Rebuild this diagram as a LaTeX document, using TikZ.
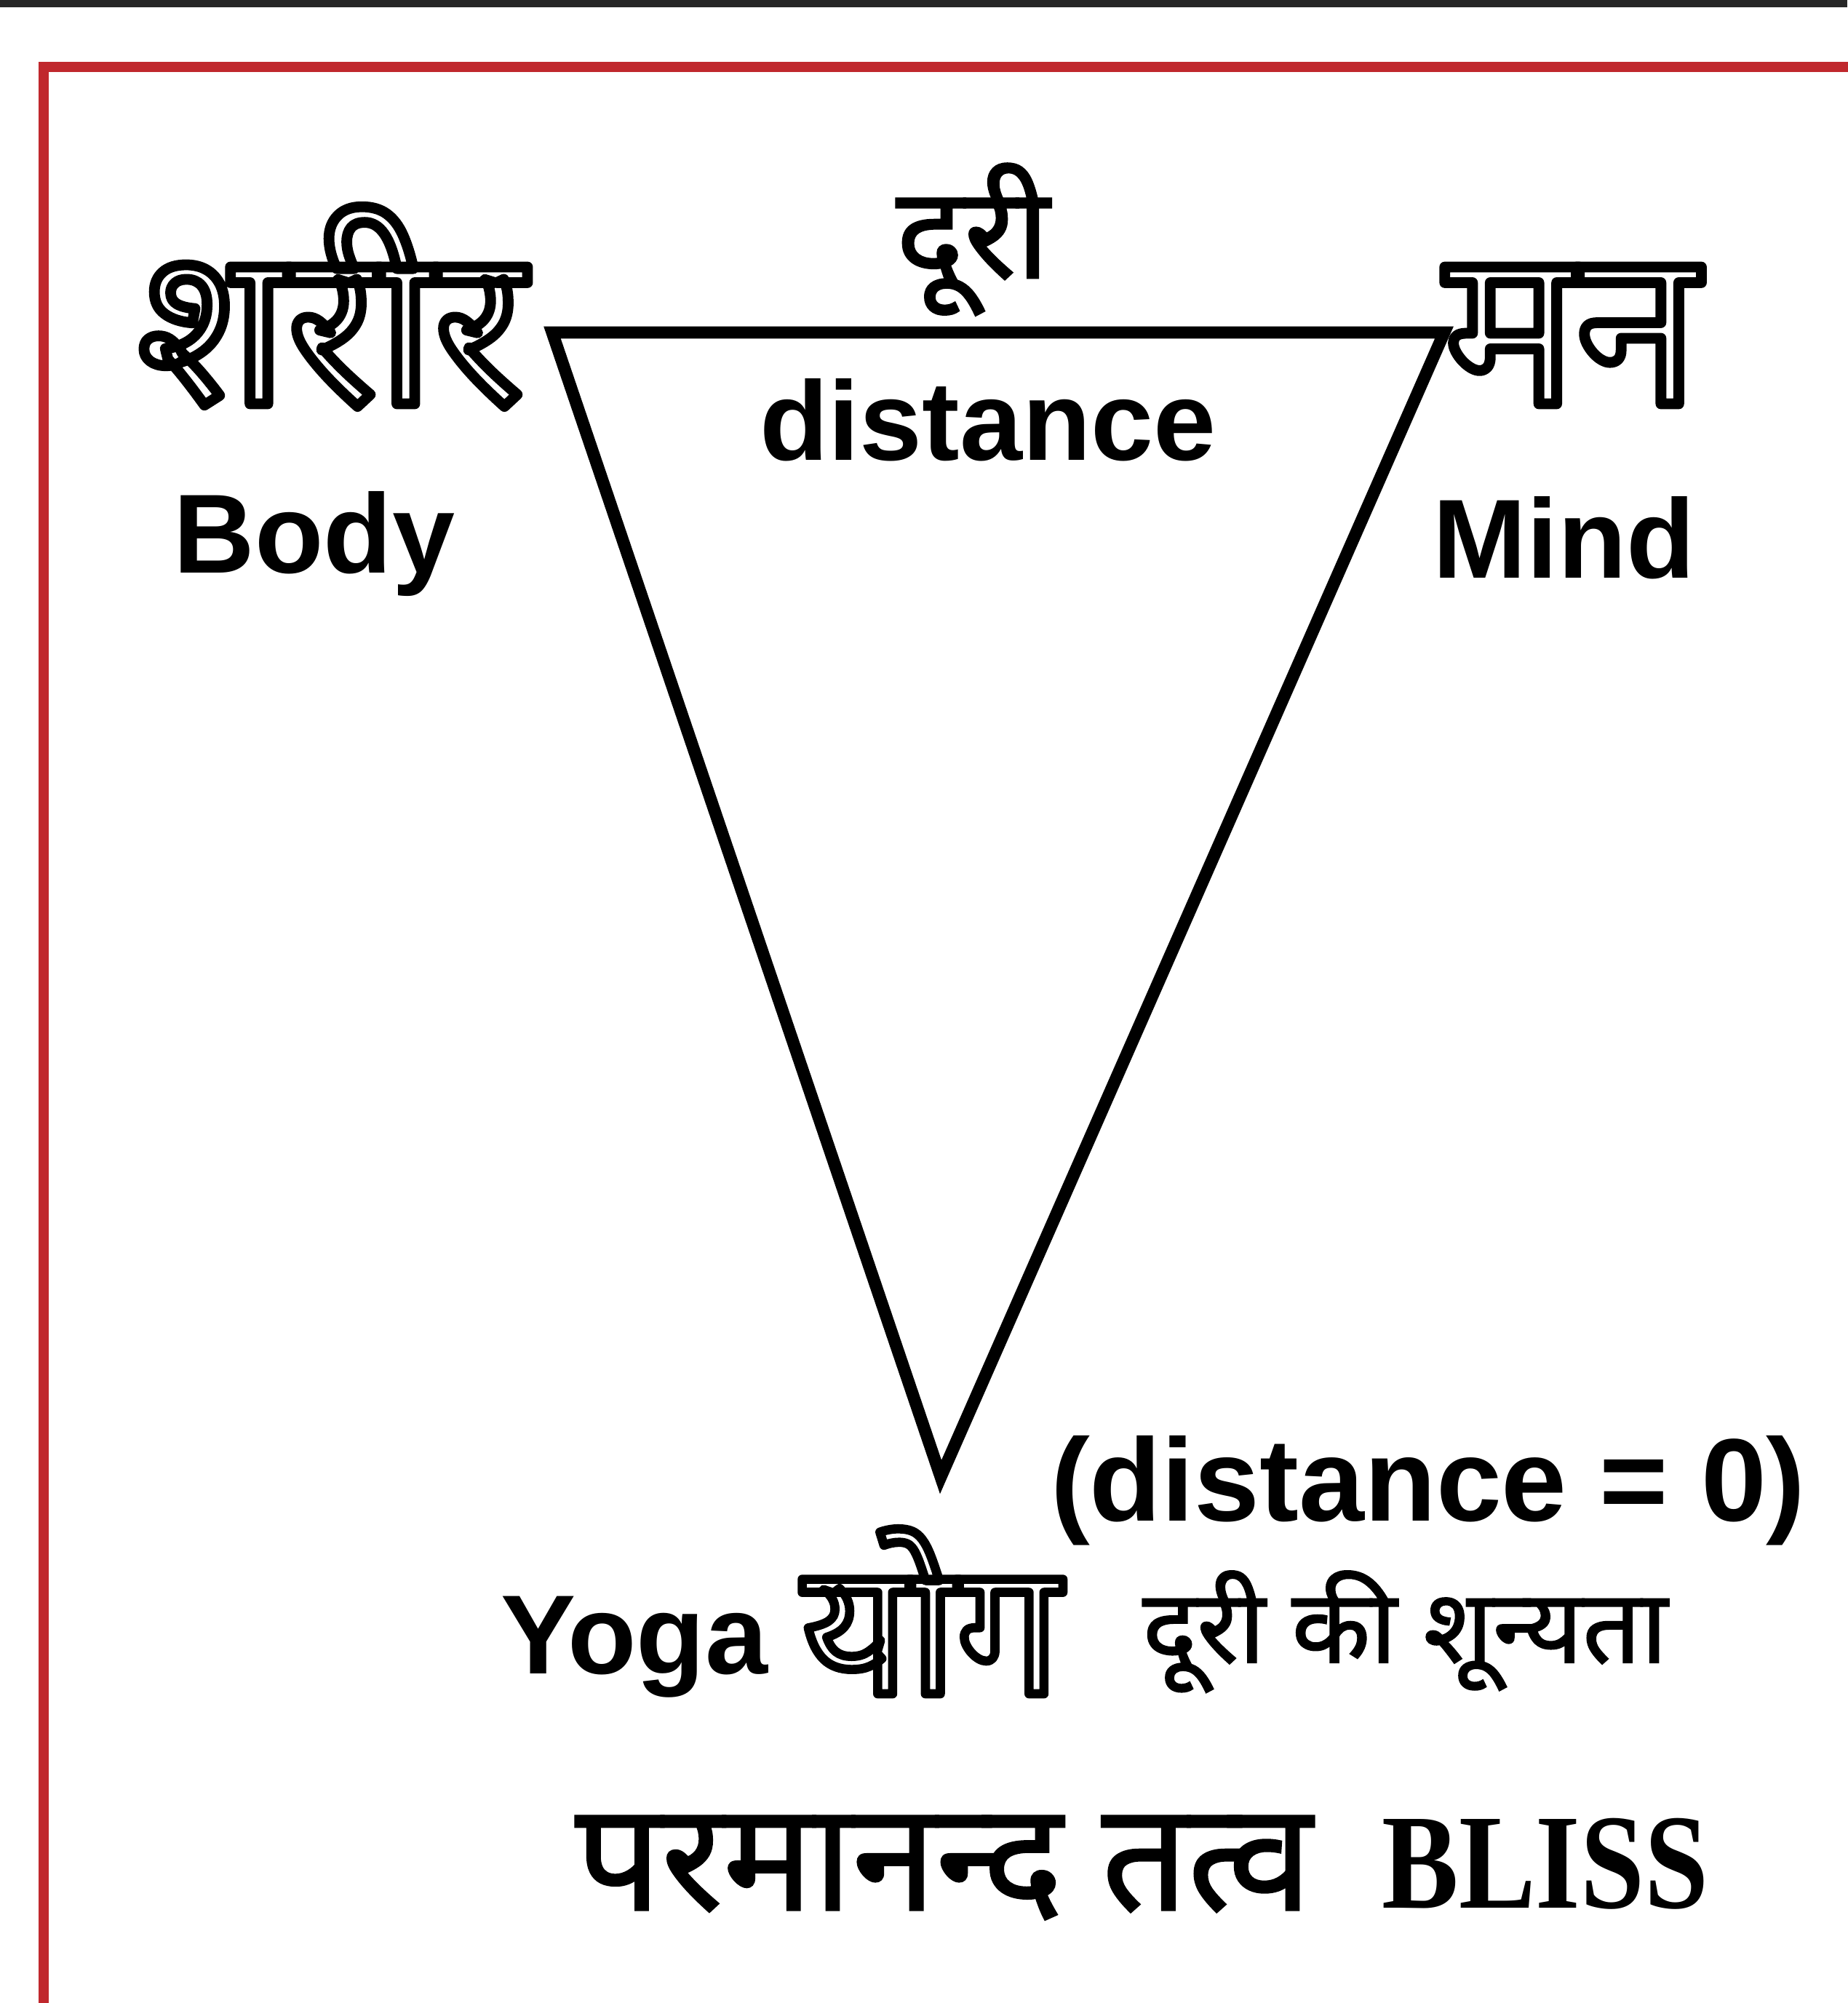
\documentclass[tikz,border=0pt]{standalone}
\usepackage{fontspec}
\setmainfont{Liberation Sans}
\newfontfamily\hindi[Script=Devanagari]{Noto Sans}
\newfontfamily\hindibold[Script=Devanagari, FakeBold=1.5]{Noto Sans}
\newfontfamily\timesfont[FakeStretch=0.85]{Liberation Serif}
\usepackage{tikz}
\usetikzlibrary{positioning}
\definecolor{FrameRed}{HTML}{C0282D}
\tikzset{
    hollowword/.style={anchor=base, inner sep=0pt, font=\hindi\bfseries\fontsize{86}{86}\selectfont},
    hindilbl/.style={anchor=base, inner sep=0pt, font=\hindibold\bfseries\fontsize{50}{50}\selectfont},
    englbl/.style={anchor=base, inner sep=0pt, font=\bfseries\fontsize{44}{44}\selectfont},
    edge/.style={line width=4.8pt},
    frameline/.style={draw=FrameRed},
}
% outlined letters: stroke only
\newcommand{\hollow}[2][4.2]{\special{pdf:literal direct 1 Tr #1 w 1 j}#2\special{pdf:literal direct 0 Tr}}

\begin{document}
\begin{tikzpicture}
    \useasboundingbox (0,0) rectangle (25.39,-27.53);
    % strip and frame
    \fill[black!85] (0,0) rectangle (25.39,-0.10);
    \draw[frameline, line width=4.2pt] (0.60,-28) -- (0.60,-0.92) -- (26,-0.92);
    % triangle
    \coordinate (body) at (7.59,-4.57);
    \coordinate (mind) at (19.85,-4.57);
    \coordinate (yoga) at (12.93,-20.30);
    \draw[edge] (body) -- (mind) -- (yoga) -- cycle;
    % corner words
    \node[hollowword] (sharir) at (4.55,-5.55) {\hollow{शरीर}};
    \node[englbl] (bodylbl) at (4.32,-7.87) {Body};
    \node[hollowword] (man) at (21.60,-5.55) {\hollow{मन}};
    \node[englbl] (mindlbl) at (21.50,-7.94) {Mind};
    \node[hindilbl] (duri) at (13.37,-3.82) {दूरी};
    \node[englbl] (dist) at (13.58,-6.32) {distance};
    % bottom
    \node[englbl, font=\bfseries\fontsize{46}{46}\selectfont] (zero) at (19.63,-20.90) {(distance = 0)};
    \node[englbl] (yogalbl) at (8.72,-23.00) {Yoga};
    \node[hollowword, font=\hindi\bfseries\fontsize{72}{72}\selectfont] (yog) at (12.80,-23.28) {\hollow[3.6]{योग}};
    \node[hindilbl, font=\hindibold\bfseries\fontsize{40}{40}\selectfont] (shunya) at (19.31,-22.85) {दूरी की शून्यता};
    \node[hindilbl, font=\hindibold\bfseries\fontsize{59}{59}\selectfont] (bliss) at (12.97,-26.25) {परमानन्द तत्व};
    \node[anchor=base, inner sep=0pt, font=\timesfont\bfseries\fontsize{53}{53}\selectfont] (blisslbl) at (21.24,-26.22) {BLISS};
\end{tikzpicture}
\end{document}
